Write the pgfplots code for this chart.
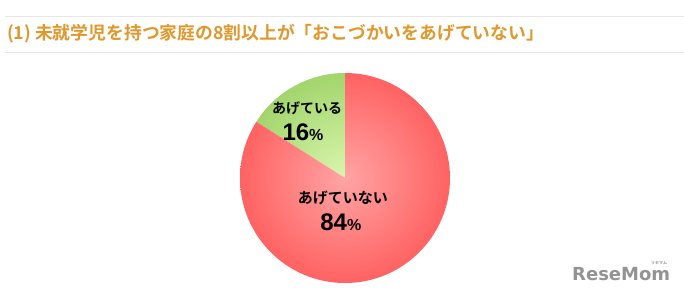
\documentclass[border=0pt]{standalone}
\usepackage{pgfplots}
\pgfplotsset{compat=1.18}
\usepackage{pgfplotstable}
\usepackage{fontspec}
\setmainfont{Noto Sans CJK JP}
\newfontfamily\cjkb{Noto Sans CJK JP Bold}
\newfontfamily\numf{Liberation Sans Bold}
\newfontfamily\logo{DejaVu Sans}
\definecolor{titleorange}{HTML}{E0982C}
\definecolor{redin}{HTML}{FFA4A4}
\definecolor{redout}{HTML}{FF6262}
\definecolor{grin}{HTML}{DAF6AE}
\definecolor{grout}{HTML}{A2D56C}
\definecolor{rule}{HTML}{E6E6E6}
\pgfplotstableread{
label value
ageteiru 16
ageteinai 84
}\piedata
\begin{document}
\begin{tikzpicture}[x=1bp,y=1bp]
\path[use as bounding box] (0,-300) rectangle (684,0);
\draw[rule,line width=0.8bp] (5,-16) -- (684,-16);
\draw[rule,line width=0.8bp] (5,-52) -- (684,-52);
\node[anchor=west,inner sep=0,text=titleorange,font=\cjkb\fontsize{17.8bp}{20bp}\selectfont] at (7,-34) {(1) 未就学児を持つ家庭の8割以上が「おこづかいをあげていない」};
\pgfplotstablegetelem{0}{value}\of\piedata \let\vA\pgfplotsretval
\pgfplotstablegetelem{1}{value}\of\piedata \let\vB\pgfplotsretval
\pgfmathsetmacro{\aA}{90+3.6*\vA}
\begin{axis}[hide axis, scale only axis, width=210bp, height=210bp,
  xmin=-1, xmax=1, ymin=-1, ymax=1, at={(345bp,-178bp)}, anchor=center,
  clip=false]
  \begin{scope}
    \clip (axis cs:0,0) -- (axis cs:0,1) arc[start angle=90, end angle=\aA, radius=105bp] -- cycle;
    \shade[inner color=grin, outer color=grout] (axis cs:0,0) circle[radius=105bp];
  \end{scope}
  \begin{scope}
    \clip (axis cs:0,0) -- (axis cs:0,1) arc[start angle=90, end angle=\aA-360, radius=105bp] -- cycle;
    \shade[inner color=redin, outer color=redout] (axis cs:0,0) circle[radius=105bp];
  \end{scope}
  \node[font=\cjkb\fontsize{14bp}{15bp}\selectfont, inner sep=0] at (axis cs:-0.36,0.66) {あげている};
  \node[font=\numf\fontsize{24bp}{25bp}\selectfont, inner sep=0] at (axis cs:-0.40,0.44) {\vA{\fontsize{16bp}{17bp}\selectfont\%}};
  \node[font=\cjkb\fontsize{15bp}{16bp}\selectfont, inner sep=0] at (axis cs:-0.02,-0.19) {あげていない};
  \node[font=\numf\fontsize{24bp}{25bp}\selectfont, inner sep=0] at (axis cs:-0.04,-0.42) {\vB{\fontsize{16bp}{17bp}\selectfont\%}};
\end{axis}
\node[anchor=west,inner sep=0,text=gray!85,font=\logo\bfseries\fontsize{18bp}{19bp}\selectfont] at (572,-274) {ReseMom};
\node[inner sep=0,text=gray!85,font=\cjkb\fontsize{4bp}{5bp}\selectfont] at (659,-263) {リセマム};
\end{tikzpicture}
\end{document}
